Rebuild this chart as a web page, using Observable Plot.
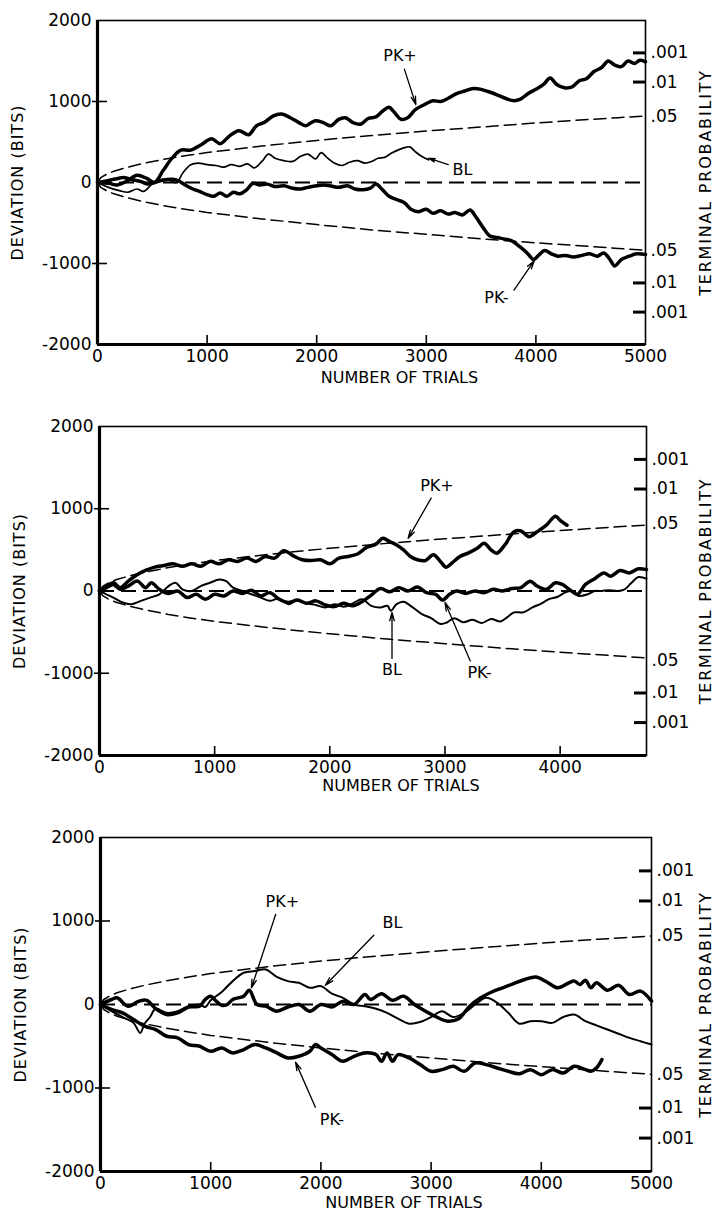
<!DOCTYPE html>
<html><head><meta charset="utf-8">
<script src="https://cdn.jsdelivr.net/npm/d3@7"></script>
<script src="https://cdn.jsdelivr.net/npm/@observablehq/plot@0.6"></script>
<style>body{margin:0;background:#fff} #chart svg{display:block}</style>
</head><body><div id="chart"></div>
<script>
// ---------- shared reference curves ----------
const envT   = [0, 30, 80, 150, 250, 400, 600, 800, 1000, 1250, 1500, 1750, 2000, 2500, 3000, 3500, 4000, 4500, 4750, 5000];
const envUp  = [0, 60, 100, 140, 180, 230, 285, 330, 370, 410, 450, 485, 520, 580, 635, 685, 735, 780, 800, 820];
const envLow = [0, -60, -100, -140, -180, -230, -285, -330, -370, -410, -450, -485, -520, -585, -640, -695, -745, -790, -815, -835];
const yTicks = [2000, 1000, 0, -1000, -2000];
const yInnerTicks = [1000, -1000];
const probTicks = [1600, 1240, 820, -840, -1240, -1600];
const probLabels = [".001", ".01", ".05", ".05", ".01", ".001"];
const probMarked = [1600, 1240, -1240, -1600];
const xTicks1 = [0, 1000, 2000, 3000, 4000, 5000];
const xTicks2 = [0, 1000, 2000, 3000, 4000];
const xInner = [1000, 2000, 3000, 4000];

// ---------- panel 1 ----------
const p1PkPlusT = [0,100,180,270,360,450,520,600,680,760,850,950,1040,1120,1200,1290,1380,1450,1520,1600,1680,1760,1850,1900,1980,2060,2130,2200,2260,2330,2400,2470,2540,2600,2660,2700,2770,2830,2900,2980,3060,3130,3200,3280,3350,3430,3500,3570,3650,3720,3800,3860,3930,4000,4070,4130,4190,4260,4330,4400,4460,4530,4600,4660,4720,4780,4840,4900,4950,5000];
const p1PkPlusV = [0,-10,-30,20,90,50,0,150,300,400,400,470,540,480,570,640,590,700,740,820,845,800,730,700,760,740,700,780,800,740,720,790,810,880,930,880,780,800,900,960,1010,1000,1040,1100,1130,1160,1150,1120,1080,1040,1010,1030,1100,1150,1210,1290,1210,1170,1180,1260,1280,1370,1420,1500,1450,1430,1500,1470,1510,1490];
const p1BlT = [0,100,200,280,360,420,500,580,650,720,780,850,920,1000,1080,1150,1220,1300,1370,1430,1500,1560,1620,1700,1780,1850,1920,1990,2040,2100,2160,2230,2300,2370,2440,2500,2560,2620,2680,2740,2800,2850,2900,2960,3020];
const p1BlV = [0,-60,-100,-120,-80,-110,-20,20,30,0,120,220,240,220,210,190,220,200,230,180,260,350,300,270,260,320,350,290,370,300,240,210,250,270,240,260,300,310,360,400,430,440,380,320,280];
const p1PkMinusT = [0,80,150,250,330,400,460,520,600,680,740,800,870,930,1000,1060,1120,1180,1240,1300,1360,1420,1480,1550,1620,1700,1780,1850,1920,2000,2060,2120,2200,2280,2350,2420,2490,2540,2600,2660,2730,2800,2860,2930,3000,3060,3130,3200,3260,3330,3400,3450,3520,3580,3650,3720,3780,3850,3920,3980,4030,4080,4140,4200,4270,4340,4420,4490,4560,4620,4680,4720,4780,4850,4920,5000];
const p1PkMinusV = [0,20,40,60,30,10,-20,0,30,40,20,-30,-80,-110,-150,-170,-130,-170,-120,-140,-90,-10,-30,-20,-50,-40,-70,-80,-60,-40,-30,-40,-60,-40,-80,-90,-70,-20,-90,-170,-210,-250,-330,-360,-330,-380,-350,-390,-370,-400,-340,-420,-560,-660,-680,-700,-720,-790,-870,-950,-890,-840,-880,-910,-900,-920,-900,-880,-910,-870,-960,-1030,-950,-910,-880,-890];
const p1Labels = ["PK+", "BL", "PK-"];
const p1LabelT = [2760, 3330, 3640];
const p1LabelV = [1560, 160, -1430];
const p1ArrowT1 = [2800, 3200, 3800];
const p1ArrowV1 = [1400, 220, -1330];
const p1ArrowT2 = [2905, 3020, 3985];
const p1ArrowV2 = [960, 300, -965];

// ---------- panel 2 ----------
const p2PkPlusT = [0,60,120,180,250,330,400,480,560,640,720,800,880,960,1040,1120,1200,1280,1360,1440,1520,1600,1680,1760,1840,1920,2000,2080,2160,2240,2320,2400,2460,2520,2580,2640,2700,2760,2830,2900,2960,3010,3060,3130,3200,3280,3340,3400,3450,3520,3600,3660,3730,3800,3880,3960,4000,4060];
const p2PkPlusV = [0,60,100,40,120,200,250,290,310,330,300,330,300,360,330,380,360,400,360,420,400,490,430,380,370,380,330,400,420,450,530,570,640,600,560,500,420,380,370,440,360,290,340,420,460,520,580,500,460,560,720,730,660,720,800,910,860,800];
const p2PkMinusT = [0,60,120,180,250,330,400,450,520,600,680,760,840,920,1000,1080,1160,1240,1320,1400,1480,1560,1640,1720,1800,1880,1960,2040,2120,2200,2280,2360,2440,2520,2600,2680,2760,2840,2920,2980,3040,3100,3180,3260,3340,3420,3500,3580,3660,3740,3800,3880,3960,4020,4080,4150,4220,4300,4380,4440,4520,4600,4680,4750];
const p2PkMinusV = [0,40,80,20,60,120,40,100,20,-30,0,-80,-40,-100,-40,-60,0,-30,10,-60,-20,-100,-140,-110,-150,-120,-170,-190,-150,-180,-130,-50,30,-10,40,0,50,-20,-40,-110,-40,0,-30,0,-20,20,0,30,40,120,60,20,100,80,20,-40,80,150,220,180,250,220,270,260];
const p2BlT = [0,60,120,200,280,360,440,520,600,660,720,800,880,960,1040,1100,1160,1240,1320,1400,1480,1560,1640,1720,1800,1880,1960,2040,2120,2200,2280,2360,2440,2500,2530,2580,2640,2720,2800,2880,2960,3020,3080,3160,3240,3320,3400,3480,3540,3600,3680,3760,3840,3900,3980,4040,4100,4160,4240,4300,4360,4420,4500,4560,4620,4680,4750];
const p2BlV = [0,-40,-80,-140,-160,-120,-80,-40,60,100,20,0,60,100,140,120,40,0,-40,-80,-120,-90,-160,-110,-150,-170,-200,-160,-190,-150,-100,-180,-200,-180,-240,-160,-130,-200,-280,-330,-400,-380,-330,-380,-350,-390,-340,-370,-320,-260,-260,-200,-150,-100,-70,-20,0,-60,-40,0,0,10,0,20,100,170,150];
const p2Labels = ["PK+", "BL", "PK-"];
const p2LabelT = [2930, 2540, 3300];
const p2LabelV = [1280, -960, -990];
const p2ArrowT1 = [2880, 2540, 3220];
const p2ArrowV1 = [1130, -820, -850];
const p2ArrowT2 = [2680, 2540, 3000];
const p2ArrowV2 = [640, -260, -140];

// ---------- panel 3 ----------
const p3PkPlusT = [0,100,150,250,350,420,500,600,700,800,900,950,1000,1050,1100,1150,1200,1300,1350,1420,1500,1600,1700,1800,1900,2000,2100,2200,2300,2400,2450,2550,2650,2750,2850,2950,3050,3150,3250,3350,3450,3550,3650,3750,3850,3950,4050,4150,4250,4300,4350,4400,4450,4500,4600,4700,4800,4900,5000];
const p3PkPlusV = [0,60,80,-20,40,50,-50,-120,-100,-30,-20,60,100,40,-10,0,60,100,170,0,-20,-80,-30,0,-80,0,-30,40,0,120,60,130,50,100,0,-80,-150,-200,-170,-20,80,150,200,250,300,330,270,200,260,280,240,290,200,260,170,230,120,160,40];
const p3BlT = [0,100,200,300,360,400,450,500,600,700,800,900,950,1000,1100,1200,1300,1400,1500,1600,1700,1800,1900,2000,2100,2200,2300,2400,2500,2600,2700,2800,2900,3000,3100,3200,3300,3400,3500,3600,3700,3800,3900,4000,4100,4200,4300,4400,4500,4600,4700,4800,4900,5000];
const p3BlV = [0,-80,-150,-220,-340,-230,-150,-50,-100,-80,-20,0,-30,50,150,280,380,400,420,330,280,260,200,220,130,80,0,-20,-50,-100,-170,-230,-210,-150,-80,-150,-100,0,80,20,-100,-230,-200,-200,-220,-150,-120,-200,-250,-300,-350,-400,-440,-480];
const p3PkMinusT = [0,100,200,300,400,500,600,700,800,900,1000,1100,1200,1300,1400,1500,1600,1700,1800,1900,1950,2000,2100,2200,2300,2400,2500,2550,2600,2650,2700,2800,2900,3000,3100,3200,3300,3400,3500,3600,3700,3800,3900,4000,4100,4200,4300,4400,4450,4500,4550];
const p3PkMinusV = [0,-60,-100,-180,-260,-300,-380,-400,-480,-500,-560,-520,-580,-540,-480,-520,-580,-640,-620,-560,-480,-520,-600,-680,-620,-580,-600,-680,-580,-680,-600,-640,-720,-800,-780,-740,-800,-700,-720,-760,-800,-830,-780,-840,-780,-820,-740,-780,-800,-760,-660];
const p3Labels = ["PK+", "BL", "PK-"];
const p3LabelT = [1650, 2650, 2100];
const p3LabelV = [1230, 980, -1380];
const p3ArrowT1 = [1590, 2480, 1950];
const p3ArrowV1 = [1080, 830, -1230];
const p3ArrowT2 = [1370, 2040, 1770];
const p3ArrowV2 = [200, 230, -690];

// ---------- helpers ----------
const zip = (ts, vs) => ts.map((t, i) => ({t, v: vs[i]}));
const probFmt = new Map(probTicks.map((v, i) => [v, probLabels[i]]));
const FONT = "DejaVu Sans";

function panel(o) {
  const envU = zip(envT, envUp).filter(d => d.t <= o.xMax);
  const envL = zip(envT, envLow).filter(d => d.t <= o.xMax);
  const notes = o.labels.map((s, i) => ({s, t: o.lt[i], v: o.lv[i]}));
  const arrows = o.a1t.map((t, i) => ({x1: t, y1: o.a1v[i], x2: o.a2t[i], y2: o.a2v[i]}));
  return Plot.plot({
    width: 721, height: o.height,
    marginTop: o.mt, marginBottom: o.mb, marginLeft: o.ml, marginRight: o.mr,
    style: {fontFamily: FONT, fontSize: "17px", background: "white", color: "black"},
    x: {domain: [0, o.xMax], axis: null, label: null},
    y: {domain: [-2000, 2000], axis: null, label: null},
    marks: [
      Plot.line(envU, {x: "t", y: "v", stroke: "black", strokeWidth: 1.5, strokeDasharray: "12,6"}),
      Plot.line(envL, {x: "t", y: "v", stroke: "black", strokeWidth: 1.5, strokeDasharray: "12,6"}),
      Plot.ruleY([0], {stroke: "black", strokeWidth: 1.8, strokeDasharray: "15,7"}),
      Plot.line(o.bl, {x: "t", y: "v", stroke: "black", strokeWidth: o.blWidth, curve: "catmull-rom"}),
      Plot.line(o.pkMinus, {x: "t", y: "v", stroke: "black", strokeWidth: 3.5, curve: "catmull-rom", strokeLinejoin: "round"}),
      Plot.line(o.pkPlus, {x: "t", y: "v", stroke: "black", strokeWidth: 3.5, curve: "catmull-rom", strokeLinejoin: "round"}),
      Plot.frame({stroke: "black", strokeWidth: 1.6}),
      Plot.ruleX([0], {stroke: "black", strokeWidth: 3.2}),
      Plot.ruleY([-2000], {stroke: "black", strokeWidth: 3.2}),
      Plot.axisY(yTicks, {anchor: "left", tickSize: 0, tickPadding: 6, tickFormat: d => String(d), fontSize: 17}),
      Plot.axisY(yInnerTicks, {anchor: "left", tickSize: 5, strokeWidth: 1.6, tickFormat: () => ""}),
      Plot.axisY(yInnerTicks, {anchor: "left", tickSize: -10, strokeWidth: 1.6, tickFormat: () => ""}),
      Plot.axisX(o.xTicks, {anchor: "bottom", tickSize: 0, tickPadding: 5, tickFormat: d => String(d), fontSize: 17}),
      Plot.axisX(xInner, {anchor: "bottom", tickSize: -9, strokeWidth: 1.6, tickFormat: () => ""}),
      Plot.axisY(probTicks, {anchor: "right", tickSize: 0, tickPadding: 5, tickFormat: d => probFmt.get(d), fontSize: 17}),
      Plot.axisY(probMarked, {anchor: "right", tickSize: -13, strokeWidth: 3, tickFormat: () => ""}),
      Plot.arrow(arrows, {x1: "x1", y1: "y1", x2: "x2", y2: "y2", stroke: "black", strokeWidth: 1.3, headLength: 10, headAngle: 30}),
      Plot.text(notes, {x: "t", y: "v", text: "s", fontSize: 16, fill: "black"}),
      Plot.text(["NUMBER OF TRIALS"], {frameAnchor: "bottom", textAnchor: "middle", dy: o.titleDy, dx: 28, fontSize: 16, fill: "black"}),
      Plot.text(["DEVIATION (BITS)"], {frameAnchor: "left", textAnchor: "middle", rotate: -90, dx: -80, fontSize: 16, fill: "black"}),
      Plot.text(["TERMINAL PROBABILITY"], {frameAnchor: "right", textAnchor: "middle", rotate: -90, dx: o.rdx, fontSize: 16, fill: "black"})
    ]
  });
}

const chart = document.getElementById("chart");
chart.append(panel({
  xMax: 5000, height: 405, mt: 20, mb: 61, ml: 97, mr: 76, titleDy: 38, rdx: 60, xTicks: xTicks1, blWidth: 1.7,
  pkPlus: zip(p1PkPlusT, p1PkPlusV), bl: zip(p1BlT, p1BlV), pkMinus: zip(p1PkMinusT, p1PkMinusV),
  labels: p1Labels, lt: p1LabelT, lv: p1LabelV, a1t: p1ArrowT1, a1v: p1ArrowV1, a2t: p1ArrowT2, a2v: p1ArrowV2
}));
chart.append(panel({
  xMax: 4750, height: 411, mt: 21, mb: 61, ml: 99, mr: 75, titleDy: 35, rdx: 59, xTicks: xTicks2, blWidth: 2.0,
  pkPlus: zip(p2PkPlusT, p2PkPlusV), bl: zip(p2BlT, p2BlV), pkMinus: zip(p2PkMinusT, p2PkMinusV),
  labels: p2Labels, lt: p2LabelT, lv: p2LabelV, a1t: p2ArrowT1, a1v: p2ArrowV1, a2t: p2ArrowT2, a2v: p2ArrowV2
}));
chart.append(panel({
  xMax: 5000, height: 400, mt: 21, mb: 45, ml: 100, mr: 70, titleDy: 36, rdx: 54, xTicks: xTicks1, blWidth: 2.0,
  pkPlus: zip(p3PkPlusT, p3PkPlusV), bl: zip(p3BlT, p3BlV), pkMinus: zip(p3PkMinusT, p3PkMinusV),
  labels: p3Labels, lt: p3LabelT, lv: p3LabelV, a1t: p3ArrowT1, a1v: p3ArrowV1, a2t: p3ArrowT2, a2v: p3ArrowV2
}));
d3.selectAll("#chart text").filter(function() { return this.textContent === "TERMINAL PROBABILITY"; }).style("letter-spacing", "1.8px");
d3.selectAll("#chart text").filter(function() { return this.textContent === "DEVIATION (BITS)"; }).style("letter-spacing", "1px");
</script>
</body></html>
